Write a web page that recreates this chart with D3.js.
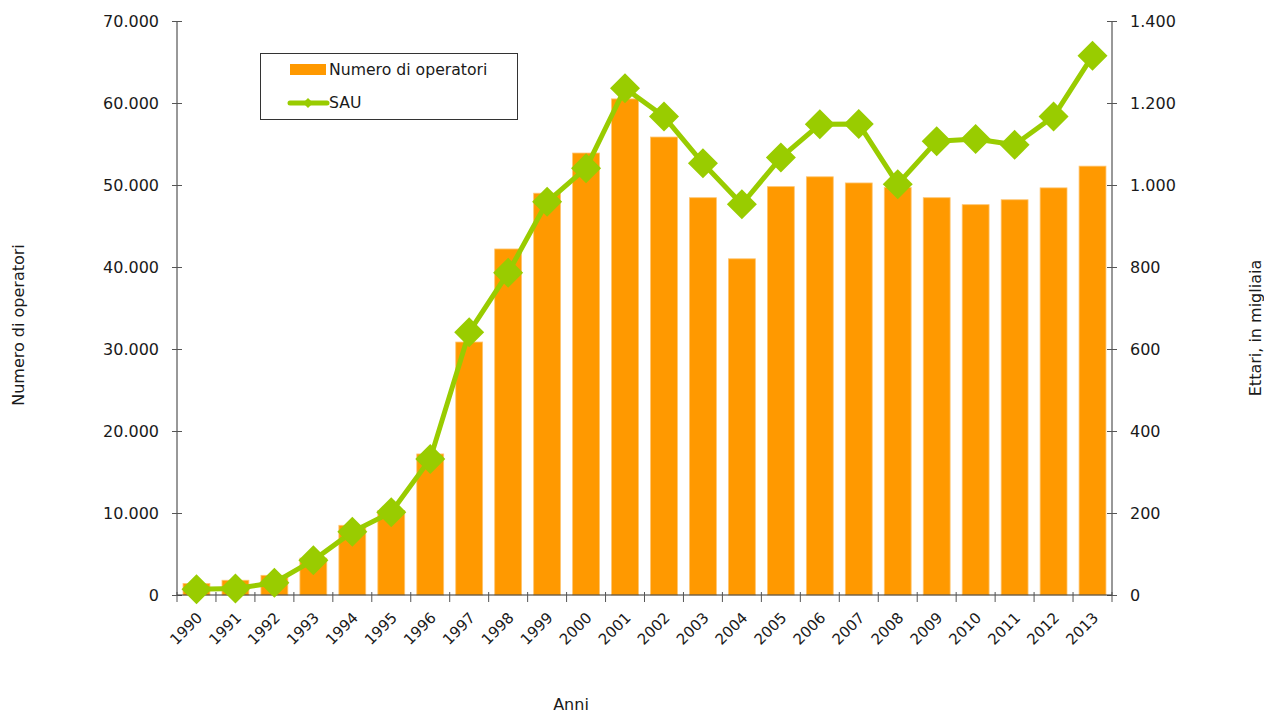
<!DOCTYPE html>
<html>
<head>
<meta charset="utf-8">
<script src="https://cdn.jsdelivr.net/npm/d3@7"></script>
<style>
body { margin: 0; background: #fff; }
svg text { font-family: "DejaVu Sans", Verdana, sans-serif; fill: #1a1a1a; }
</style>
</head>
<body>
<svg id="chart" width="1264" height="715"></svg>
<script>
var years = ["1990","1991","1992","1993","1994","1995","1996","1997","1998","1999","2000","2001",
             "2002","2003","2004","2005","2006","2007","2008","2009","2010","2011","2012","2013"];
var operatori = [1400, 1800, 2400, 4500, 8500, 10300, 17200, 30850, 42200, 49000, 53900, 60500,
                 55850, 48450, 41000, 49800, 51000, 50250, 49700, 48450, 47600, 48200, 49650, 52300];
var sau = [14, 16, 30, 85, 154, 202, 332, 641, 786, 959, 1041, 1236,
           1167, 1053, 953, 1067, 1148, 1149, 1002, 1107, 1112, 1098, 1167, 1315];
var leftTicks = [0, 10000, 20000, 30000, 40000, 50000, 60000, 70000];
var rightTicks = [0, 200, 400, 600, 800, 1000, 1200, 1400];

var it = d3.formatLocale({decimal: ",", thousands: ".", grouping: [3], currency: ["€", ""]});
var fmt = it.format(",d");

var svg = d3.select("#chart");
var plotL = 177, plotR = 1112, plotT = 21, plotB = 595;

var x = d3.scaleBand().domain(years).range([plotL, plotR]).paddingInner(0.31).paddingOuter(0.155);
var yL = d3.scaleLinear().domain([0, 70000]).range([plotB, plotT]);
var yR = d3.scaleLinear().domain([0, 1400]).range([plotB, plotT]);

// bars
svg.append("g").selectAll("rect")
    .data(operatori)
  .enter().append("rect")
    .attr("x", function (d, i) { return x(years[i]); })
    .attr("y", function (d) { return yL(d); })
    .attr("width", x.bandwidth())
    .attr("height", function (d) { return plotB - yL(d); })
    .style("fill", "#ff9900")
    .style("stroke", "#ffc570")
    .style("stroke-width", 0.8);

// left axis
var axL = svg.append("g").attr("transform", "translate(" + plotL + ",0)")
    .call(d3.axisLeft(yL).tickValues(leftTicks).tickFormat(fmt).tickSize(5).tickPadding(13));
axL.select(".domain").attr("stroke", "#333").attr("d", "M0," + plotB + "V" + plotT);
axL.selectAll(".tick line").attr("x1", -5).attr("x2", 5).attr("stroke", "#555");
axL.selectAll(".tick text").style("font-size", "16px");

// right axis
var axR = svg.append("g").attr("transform", "translate(" + plotR + ",0)")
    .call(d3.axisRight(yR).tickValues(rightTicks).tickFormat(fmt).tickSize(5).tickPadding(13));
axR.select(".domain").attr("stroke", "#333").attr("d", "M0," + plotB + "V" + plotT);
axR.selectAll(".tick line").attr("x1", -5).attr("x2", 5).attr("stroke", "#555");
axR.selectAll(".tick text").style("font-size", "16px");

// x axis
var gx = svg.append("g");
gx.append("line").attr("x1", plotL).attr("x2", plotR).attr("y1", plotB).attr("y2", plotB)
    .attr("stroke", "#333");
gx.selectAll("line.tk")
    .data(d3.range(years.length + 1))
  .enter().append("line")
    .attr("class", "tk")
    .attr("x1", function (i) { return plotL + i * x.step(); })
    .attr("x2", function (i) { return plotL + i * x.step(); })
    .attr("y1", plotB - 3).attr("y2", plotB + 7)
    .attr("stroke", "#555");
gx.selectAll("text")
    .data(years)
  .enter().append("text")
    .attr("transform", function (d) {
        return "translate(" + (x(d) + x.bandwidth() / 2 + 3) + "," + (plotB + 20) + ") rotate(-45)";
    })
    .attr("text-anchor", "end")
    .attr("dy", "0.35em")
    .style("font-size", "15px")
    .text(function (d) { return d; });

// SAU line
var line = d3.line()
    .x(function (d, i) { return x(years[i]) + x.bandwidth() / 2; })
    .y(function (d) { return yR(d); });
svg.append("path").datum(sau)
    .attr("d", line)
    .attr("fill", "none")
    .attr("stroke", "#99cc00")
    .attr("stroke-width", 5)
    .attr("stroke-linejoin", "round");
svg.append("g").selectAll("path")
    .data(sau)
  .enter().append("path")
    .attr("transform", function (d, i) {
        return "translate(" + (x(years[i]) + x.bandwidth() / 2) + "," + yR(d) + ")";
    })
    .attr("d", "M0,-15L15,0L0,15L-15,0Z")
    .attr("fill", "#99cc00");

// axis titles
svg.append("text").attr("transform", "translate(24,325) rotate(-90)")
    .attr("text-anchor", "middle").style("font-size", "16px").text("Numero di operatori");
svg.append("text").attr("transform", "translate(1261,328) rotate(-90)")
    .attr("text-anchor", "middle").style("font-size", "16px").text("Ettari, in migliaia");
svg.append("text").attr("x", 571).attr("y", 710)
    .attr("text-anchor", "middle").style("font-size", "16px").text("Anni");

// legend
var lg = svg.append("g");
lg.append("rect").attr("x", 260.5).attr("y", 53.5).attr("width", 257).attr("height", 66)
    .attr("fill", "#fff").attr("stroke", "#333");
lg.append("rect").attr("x", 290).attr("y", 64).attr("width", 36).attr("height", 11)
    .attr("fill", "#ff9900");
lg.append("text").attr("x", 329).attr("y", 70).attr("dy", "0.35em")
    .style("font-size", "15.7px").text("Numero di operatori");
lg.append("line").attr("x1", 290).attr("x2", 327).attr("y1", 103).attr("y2", 103)
    .attr("stroke", "#99cc00").attr("stroke-width", 5).attr("stroke-linecap", "round");
lg.append("path").attr("transform", "translate(308,103)").attr("d", "M0,-5L5,0L0,5L-5,0Z")
    .attr("fill", "#99cc00");
lg.append("text").attr("x", 329).attr("y", 103).attr("dy", "0.35em")
    .style("font-size", "15.7px").text("SAU");
</script>
</body>
</html>
